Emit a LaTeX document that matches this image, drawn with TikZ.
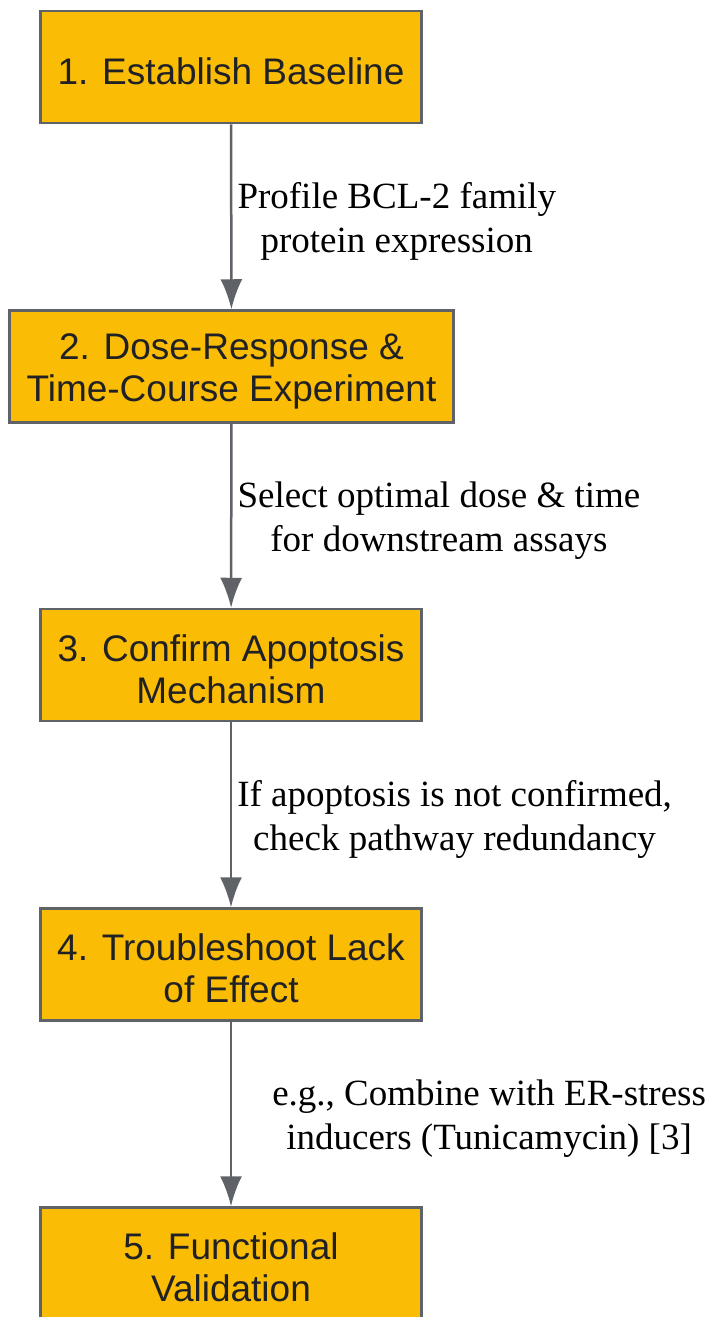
\documentclass[tikz,border=0pt]{standalone}
\usepackage{fontspec}
\setmainfont{Liberation Serif}
\newfontfamily\stepfont{Liberation Sans}
\usetikzlibrary{arrows.meta}
\definecolor{stepfill}{HTML}{FBBC05}
\definecolor{stepline}{HTML}{5F6368}
\definecolor{steptext}{HTML}{202124}
\newcommand\tallline{\rule{0pt}{35pt}}

\begin{document}
\begin{tikzpicture}[x=1pt, y=-1pt]
    \tikzset{
      stepbox/.style={rectangle, draw=stepline, fill=stepfill, line width=2.5pt, text=steptext, font=\stepfont\fontsize{37}{42}\selectfont, align=center, minimum width=381pt, minimum height=112pt, inner sep=0pt},
      flow/.style={-{Latex[length=30pt, width=22pt]}, draw=stepline, line width=2.5pt},
      note/.style={right, align=center, text=black, font=\fontsize{37}{44}\selectfont, inner sep=5pt, yshift=-5pt}
    }
    \useasboundingbox (0,0) rectangle (712,1317);
    \draw (231,67) node (s1) [stepbox] {\tallline 1. Establish Baseline};
    \draw (231.5,366.5) node (s2) [stepbox, minimum width=444pt] {\tallline 2. Dose-Response \&\\Time-Course Experiment};
    \draw (231,665) node (s3) [stepbox] {\tallline 3. Confirm Apoptosis\\Mechanism};
    \draw (231,964.5) node (s4) [stepbox] {\tallline 4. Troubleshoot Lack\\of Effect};
    \draw (231,1263.5) node (s5) [stepbox] {\tallline 5. Functional\\Validation};

    \draw[flow] (s1) -- node [note] {Profile BCL-2 family\\protein expression} (s2);
    \draw[flow] (s2) -- node [note] {Select optimal dose \& time\\for downstream assays} (s3);
    \draw[flow] (s3) -- node [note] {If apoptosis is not confirmed,\\check pathway redundancy} (s4);
    \draw[flow] (s4) -- node [note, xshift=35pt] {e.g., Combine with ER-stress\\inducers (Tunicamycin) [3]} (s5);

  \end{tikzpicture}
\end{document}
